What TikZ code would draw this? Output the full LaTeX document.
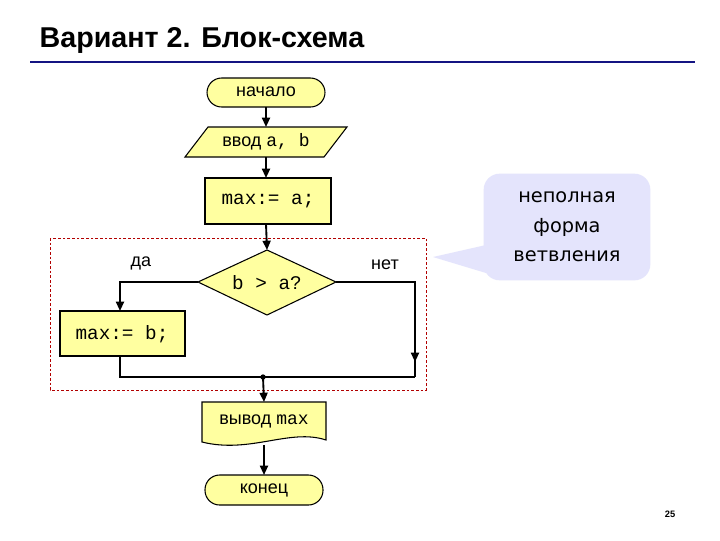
\documentclass[tikz,border=0pt]{standalone}
\usepackage{fontspec}
\setmainfont{Liberation Sans}
\newfontfamily\cyrs{DejaVu Sans}
\newfontfamily\monof{Liberation Mono}
\usetikzlibrary{shapes.geometric,shapes.symbols,arrows.meta}
\definecolor{fy}{RGB}{255,255,160}
\definecolor{lav}{RGB}{228,228,252}
\definecolor{navy}{RGB}{20,20,130}
\begin{document}
\begin{tikzpicture}[x=0.75pt,y=-0.75pt,
  box/.style={draw,fill=fy,line width=0.8pt,inner sep=0pt},
  arr/.style={-{Triangle[length=7pt,width=6pt]},line width=1.4pt},
  ln/.style={line width=1.4pt},
  lbl/.style={font=\fontsize{13.5}{15}\selectfont},
  mono/.style={font=\monof\fontsize{14.5}{16}\selectfont}]
\useasboundingbox (0,0) rectangle (720,540);
\fill[white] (0,0) rectangle (720,540);
\node[anchor=west,font=\bfseries\fontsize{21.5}{24}\selectfont] (title) at (35,40) {Вариант 2. Блок-схема};
\draw[navy,line width=2.2pt] (30,62) -- (695,62);
% callout
\node[fill=lav,rounded corners=12pt,align=center,font=\cyrs\fontsize{14.5}{22}\selectfont,minimum width=125pt,minimum height=80pt] (call) at (567,227) {неполная\\форма\\ветвления};
\coordinate (tip) at (433,257);
\fill[lav] (tip) -- (486,245) -- (486,273) -- cycle;
% red dashed
\draw[red!70!black,line width=0.5pt,dash pattern=on 2pt off 1.5pt] (50,238) rectangle (426,390);
% nodes
\draw[box,rounded corners=11pt] (207,78) rectangle (325,107);
\node[lbl] (start) at (266,92) {начало};
\coordinate (startb) at (266,107);
\draw[box] (185,157) -- (208,127) -- (347,127) -- (324,157) -- cycle;
\node[lbl] (inp) at (266,142) {ввод \monof a, b};
\coordinate (inpt) at (266,127); \coordinate (inpb) at (266,157);
\draw[box] (205,178) rectangle (331,224);
\node[mono] (ma) at (268,201) {max:= a;};
\coordinate (mat) at (266,178); \coordinate (mab) at (266,224);
\draw[box] (267,250) -- (336,282) -- (267,315) -- (198,282) -- cycle;
\node[mono] (cond) at (267,283) {b > a?};
\coordinate (cl) at (198,282); \coordinate (cr) at (336,282); \coordinate (ct) at (267,250);
\node[lbl] (yes) at (141,263) {да};
\node[lbl] (no) at (385,265) {нет};
\draw[box] (60,311) rectangle (185,356);
\node[mono] (mb) at (122,334) {max:= b;};
\coordinate (mbt) at (120,311); \coordinate (mbb) at (120,356);
\draw[box] (202,402) -- (326,402) -- (326,440) .. controls (290,428) and (250,454) .. (202,442) -- cycle;
\node[lbl] (out) at (264,421) {вывод \monof max};
\coordinate (outt) at (264,402); \coordinate (outb) at (264,445);
\draw[box,rounded corners=11pt] (205,475) rectangle (323,505);
\node[lbl] (end) at (264,490) {конец};
\coordinate (endt) at (264,475);
\coordinate (j) at (263,377);
\node[font=\bfseries\fontsize{7}{8}\selectfont] (pg) at (670,514) {25};
% connectors
\draw[arr] (startb) -- (inpt);
\draw[arr] (inpb) -- (mat);
\draw[arr] (mab) -- (ct);
\draw[arr] (cl) -| (mbt);
\draw[ln] (cr) -| (415,377);
\draw[arr] (415,330) -- (415,362);
\draw[ln] (mbb) |- (415,377);
\fill (j) circle (2pt);
\draw[arr] (j) -- (outt);
\draw[arr] (outb) -- (endt);
\end{tikzpicture}
\end{document}
